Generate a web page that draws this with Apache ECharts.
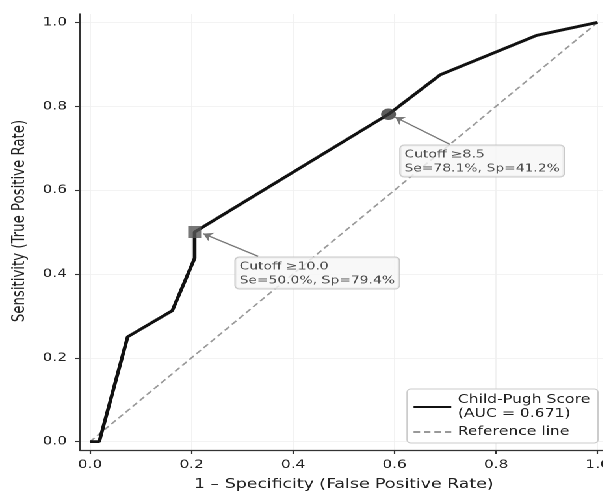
<!DOCTYPE html>
<html>
<head>
<meta charset="utf-8">
<script src="https://cdn.jsdelivr.net/npm/echarts@6/dist/echarts.min.js"></script>
<style>
  html, body { margin: 0; padding: 0; background: #fff; overflow: hidden; }
  /* the reference figure is stretched sideways, so draw narrow and widen;
     the canvas is a bit wider than the window because the plot runs off the right edge */
  #roc { width: 474px; height: 496px; transform: scaleX(1.3); transform-origin: 0 0; }
</style>
</head>
<body>
<div id="roc"></div>
<script>
  // ROC points
  var fpr = [0, 0.018, 0.074, 0.162, 0.206, 0.206, 0.588, 0.690, 0.880, 1];
  var tpr = [0, 0, 0.25, 0.3125, 0.4375, 0.5, 0.781, 0.875, 0.969, 1];

  // highlighted cutoffs
  var cutFpr = [0.206, 0.588];
  var cutTpr = [0.5, 0.781];
  var cutText = ['Cutoff \u226510.0\nSe=50.0%, Sp=79.4%', 'Cutoff \u22658.5\nSe=78.1%, Sp=41.2%'];
  var cutSymbol = ['rect', 'circle'];

  var refX = [0, 1];
  var refY = [0, 1];

  var tickVals = [0, 0.2, 0.4, 0.6, 0.8, 1.0];
  var rocName = 'Child-Pugh Score\n(AUC = 0.671)';
  var refName = 'Reference line';

  // where the note boxes sit relative to their point (data units)
  var boxOff = [[0.082, -0.062], [0.025, -0.076]];
  var arrowFrom = [[0.125, -0.058], [0.121, -0.072]];
  var arrowTip = [[0.017, -0.004], [0.013, -0.007]];

  var chart = echarts.init(document.getElementById('roc'), null, { devicePixelRatio: 2 });
  var font = 'DejaVu Sans';

  function axisBits(isX) {
    return {
      type: 'value',
      min: -0.02,
      max: 1.02,
      axisLine: { show: true, onZero: false, lineStyle: { color: '#333', width: 1.2 } },
      axisTick: { show: true, customValues: tickVals, length: isX ? 4 : 3.5, lineStyle: { color: '#333', width: 1.1 } },
      axisLabel: {
        customValues: tickVals,
        color: '#222', fontFamily: font, fontSize: 11.8, margin: isX ? 9 : 10,
        formatter: function (v) { return v.toFixed(1); }
      },
      splitLine: { show: true, customValues: tickVals, lineStyle: { color: '#efefef', width: 0.8 } }
    };
  }

  var xAxis = axisBits(true);
  xAxis.name = '1 \u2013 Specificity (False Positive Rate)';
  xAxis.nameLocation = 'middle';
  xAxis.nameGap = 28;
  xAxis.nameTextStyle = { color: '#222', fontFamily: font, fontSize: 13.3 };

  var yAxis = axisBits(false);
  yAxis.name = 'Sensitivity (True Positive Rate)';
  yAxis.nameLocation = 'middle';
  yAxis.nameGap = 40;
  // extra room on the text's start pushes it a little up the axis
  yAxis.nameTextStyle = { color: '#222', fontFamily: font, fontSize: 13.3, padding: [0, 0, 0, 22] };

  var boxes = [], arrows = [], marks = [];
  for (var i = 0; i < cutFpr.length; i++) {
    marks.push({ value: [cutFpr[i], cutTpr[i]], symbol: cutSymbol[i],
      symbolSize: i === 0 ? [10, 12] : 11.5,
      itemStyle: { color: i === 0 ? '#555' : '#333' } });
    boxes.push({ value: [cutFpr[i] + boxOff[i][0], cutTpr[i] + boxOff[i][1]], label: { formatter: cutText[i] } });
    arrows.push({ coords: [
      [cutFpr[i] + arrowFrom[i][0], cutTpr[i] + arrowFrom[i][1]],
      [cutFpr[i] + arrowTip[i][0], cutTpr[i] + arrowTip[i][1]]
    ] });
  }

  chart.setOption({
    animation: false,
    backgroundColor: '#fff',
    grid: { left: 61.5, width: 406, top: 14, bottom: 45, containLabel: false },
    xAxis: xAxis,
    yAxis: yAxis,
    legend: {
      data: [rocName, refName],
      orient: 'vertical',
      right: 14,
      bottom: 53,
      backgroundColor: '#fff',
      borderColor: '#cccccc',
      borderWidth: 1,
      borderRadius: 3,
      padding: [4, 6, 4, 4],
      itemWidth: 29,
      itemHeight: 10,
      itemGap: 4,
      itemStyle: { opacity: 0 },
      textStyle: { color: '#222', fontFamily: font, fontSize: 12, lineHeight: 14 }
    },
    series: [
      {
        name: refName,
        type: 'line',
        data: refX.map(function (x, k) { return [x, refY[k]]; }),
        symbol: 'none',
        lineStyle: { color: '#999', width: 1.4, type: [5, 3] },
        itemStyle: { color: '#999' },
        z: 2
      },
      {
        name: rocName,
        type: 'line',
        data: fpr.map(function (x, k) { return [x, tpr[k]]; }),
        symbol: 'none',
        lineStyle: { color: '#111', width: 2.8 },
        itemStyle: { color: '#111' },
        z: 3
      },
      {
        name: 'cutoffs',
        type: 'scatter',
        data: marks,
        z: 4
      },
      {
        name: 'arrows',
        type: 'lines',
        coordinateSystem: 'cartesian2d',
        data: arrows,
        symbol: ['none', 'arrow'],
        symbolSize: 7,
        lineStyle: { color: '#777', width: 1.2, opacity: 1 },
        z: 5
      },
      {
        name: 'notes',
        type: 'scatter',
        data: boxes,
        symbolSize: 1,
        itemStyle: { color: 'rgba(0,0,0,0)' },
        label: {
          show: true,
          position: [0, 0],
          align: 'left',
          verticalAlign: 'top',
          color: '#222',
          fontFamily: font,
          fontSize: 10.7,
          lineHeight: 14,
          backgroundColor: '#f6f6f6',
          borderColor: '#bbbbbb',
          borderWidth: 1,
          borderRadius: 3,
          padding: [2, 3, 1, 3]
        },
        z: 6
      }
    ]
  });
</script>
</body>
</html>
